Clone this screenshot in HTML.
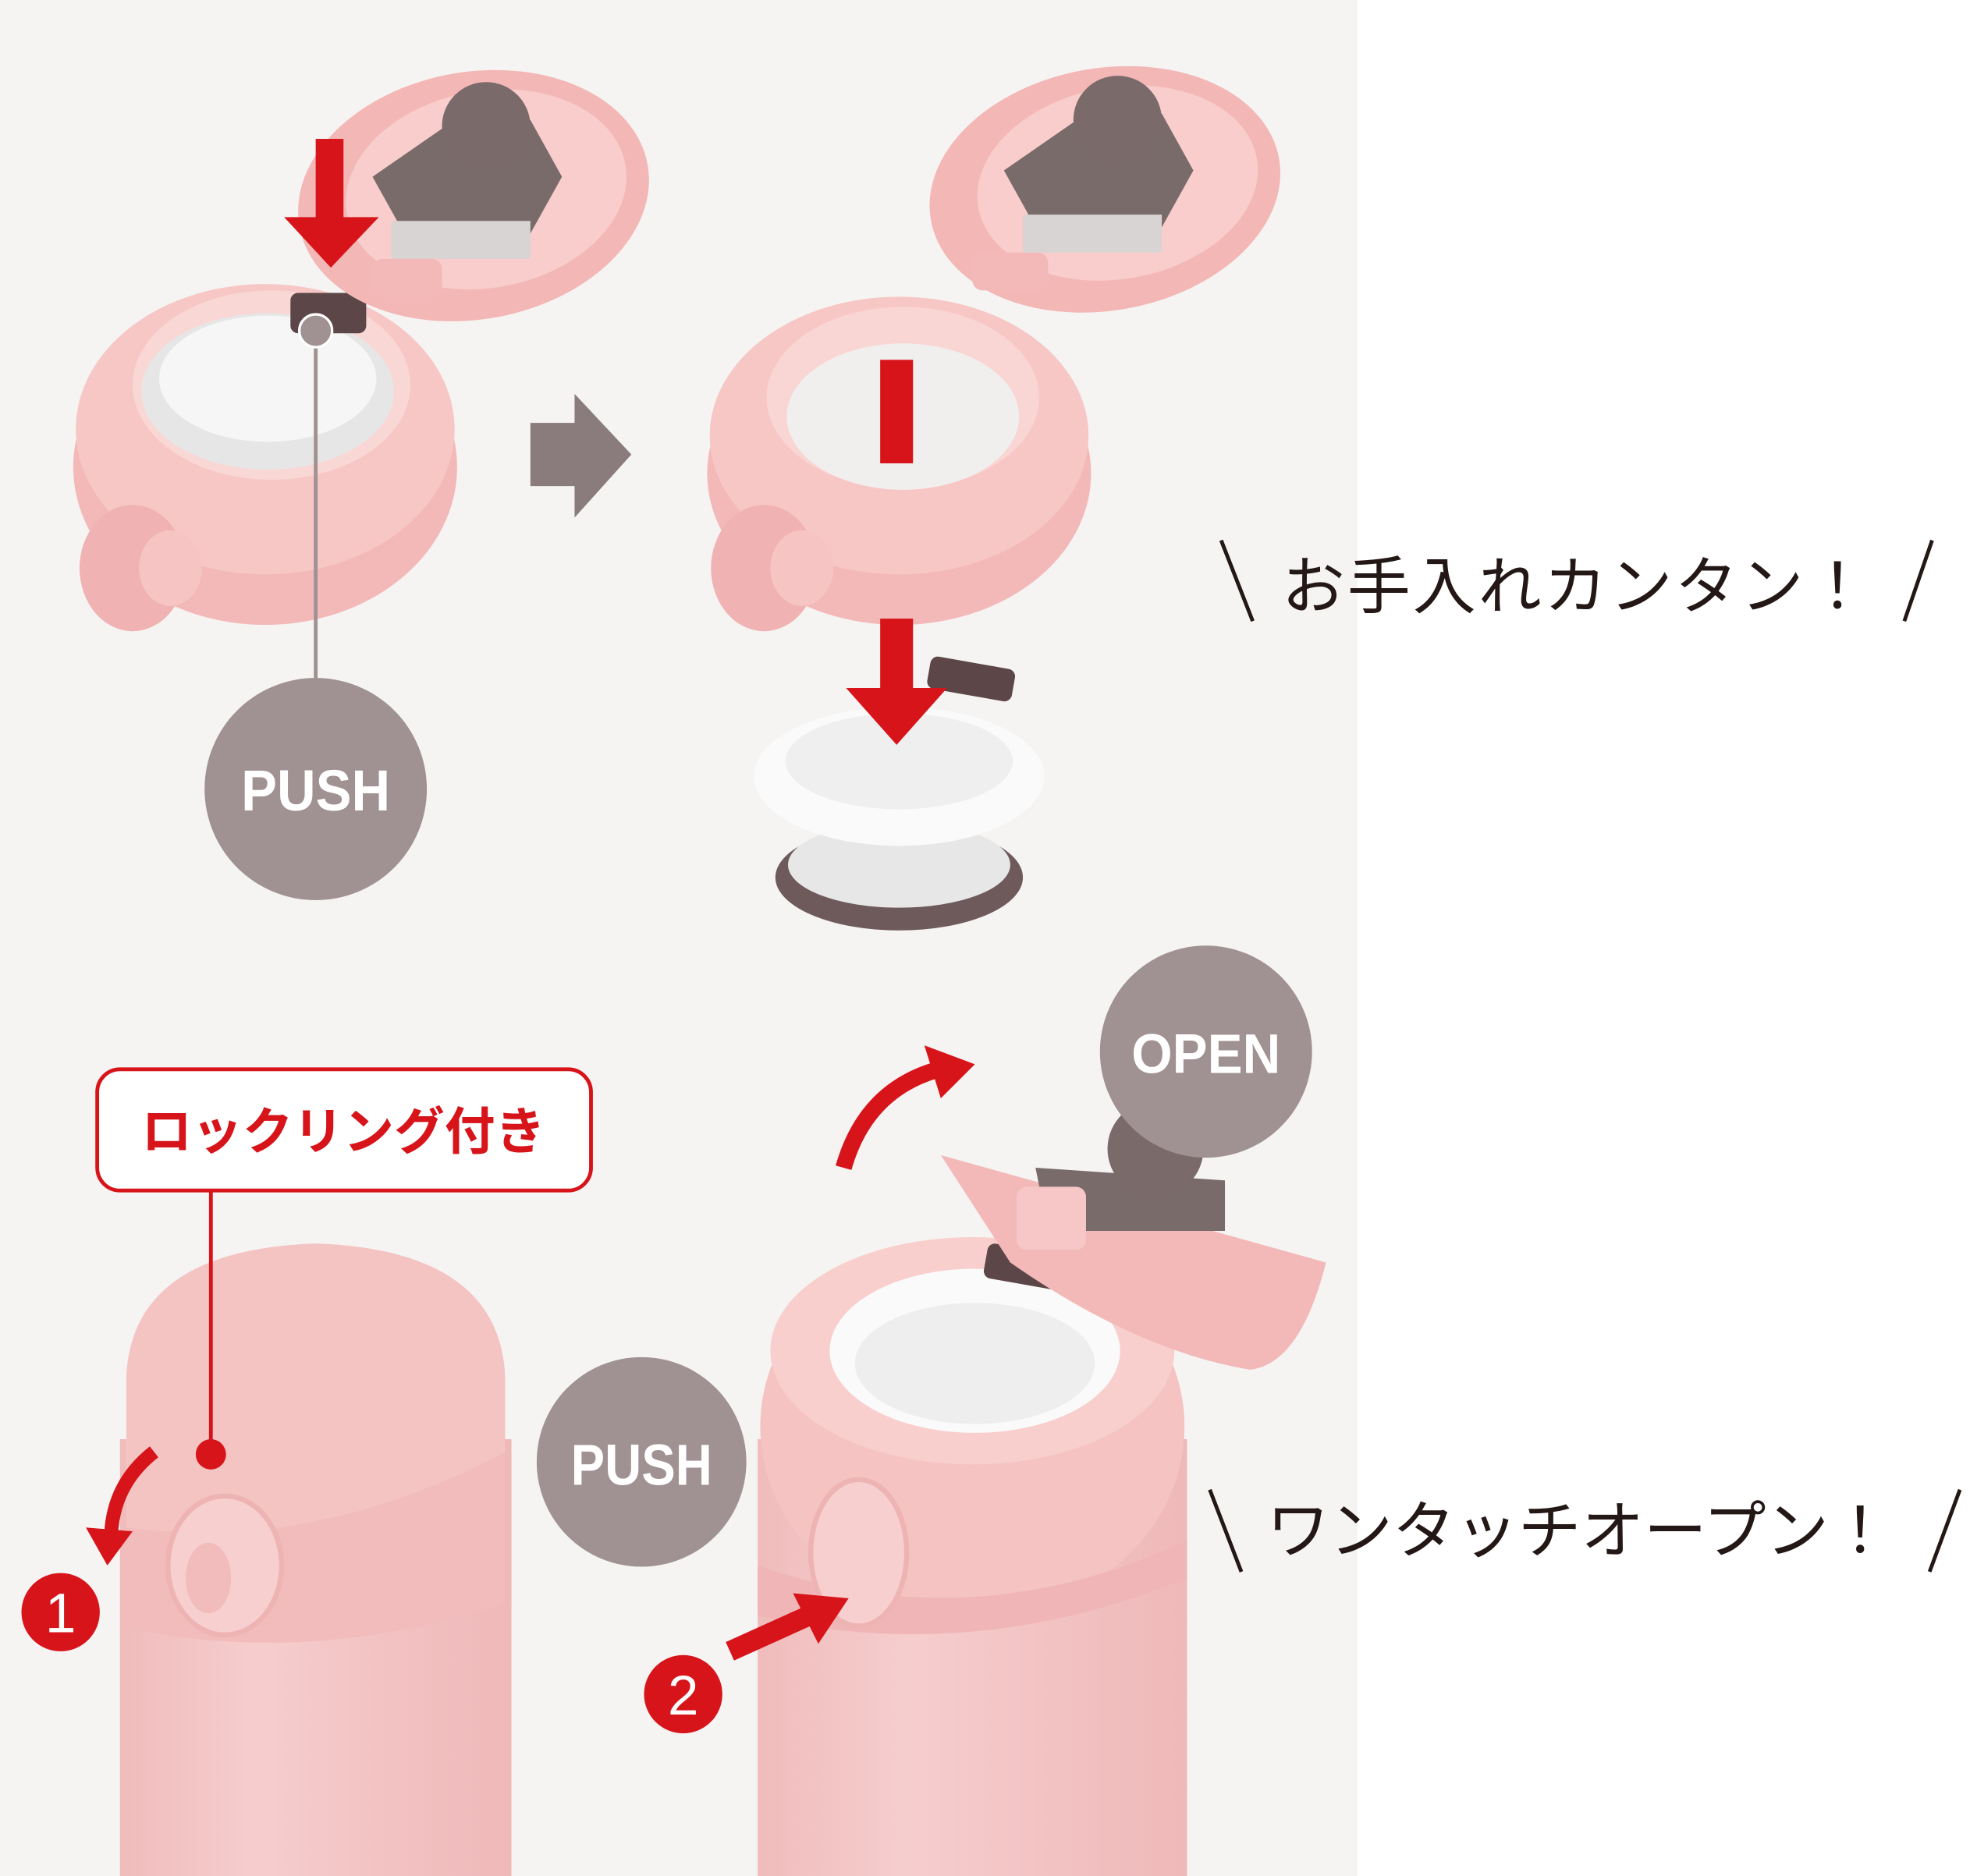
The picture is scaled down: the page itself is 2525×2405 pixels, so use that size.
<!DOCTYPE html>
<html><head><meta charset="utf-8"><style>
html,body{margin:0;padding:0;background:#fff}
svg{display:block}
</style></head><body>
<svg width="2525" height="2405" viewBox="0 0 1560 1486" preserveAspectRatio="none" xmlns="http://www.w3.org/2000/svg">
<defs>
<linearGradient id="bot" x1="0" x2="1" y1="0" y2="0">
<stop offset="0" stop-color="#f0bcbc"/><stop offset="0.35" stop-color="#f6cdcd"/><stop offset="1" stop-color="#efb8b9"/>
</linearGradient>
</defs>
<rect x="0" y="0" width="1560" height="1486" fill="#fff"/>
<rect x="0" y="0" width="1075" height="1486" fill="#f5f4f3"/>

<!-- TOP LEFT: base -->
<ellipse cx="210" cy="370" rx="152" ry="125" fill="#f3b9b8"/>
<ellipse cx="210" cy="340" rx="150" ry="115" fill="#f7c7c5"/>
<ellipse cx="215" cy="305" rx="110" ry="75" fill="#f9d7d5"/>
<ellipse cx="212" cy="310" rx="100" ry="62" fill="#e7e6e6"/>
<ellipse cx="212" cy="300" rx="86" ry="50" fill="#f6f6f6"/>
<ellipse cx="105" cy="450" rx="42" ry="50" fill="#f0b2b2"/>
<ellipse cx="135" cy="450" rx="25" ry="30" fill="#f6c4c3"/>
<rect x="230" y="232" width="60" height="32" rx="6" fill="#5c4647"/>
<!-- top left lid -->
<ellipse cx="375" cy="155" rx="140" ry="98" fill="#f3b7b6" transform="rotate(-10 375 155)"/>
<ellipse cx="385" cy="150" rx="112" ry="78" fill="#f8cdcb" transform="rotate(-10 385 150)"/>
<path d="M295 140 L360 95 L420 95 L445 140 L420 185 L320 185 Z" fill="#7a6b6b"/>
<circle cx="385" cy="100" r="35" fill="#7a6a6a"/>
<rect x="310" y="175" width="110" height="30" fill="#d8d4d3"/>
<rect x="295" y="205" width="55" height="30" rx="8" fill="#f3b9b8"/>
<!-- red down arrow -->
<rect x="250" y="110" width="22" height="70" fill="#d7141a"/>
<path d="M225 172 L300 172 L262 212 Z" fill="#d7141a"/>
<!-- leader -->
<line x1="250" y1="262" x2="250" y2="540" stroke="#a09193" stroke-width="3"/>
<circle cx="250" cy="262" r="13" fill="#a09193" stroke="#fff" stroke-width="2"/>
<circle cx="250" cy="625" r="88" fill="#a09193"/>
<text x="250" y="642" font-family="Liberation Sans, sans-serif" font-weight="bold" font-size="46" fill="#fff" text-anchor="middle" textLength="118" lengthAdjust="spacingAndGlyphs">PUSH</text>

<!-- gray arrow -->
<path d="M420 335 L455 335 L455 312 L500 360 L455 410 L455 385 L420 385 Z" fill="#8a7b7c"/>

<!-- TOP RIGHT: ring -->
<ellipse cx="712" cy="375" rx="152" ry="120" fill="#f3b9b8"/>
<ellipse cx="712" cy="345" rx="150" ry="110" fill="#f7c7c5"/>
<ellipse cx="715" cy="315" rx="108" ry="72" fill="#f9d5d3"/>
<ellipse cx="715" cy="330" rx="92" ry="58" fill="#f1efee"/>
<ellipse cx="605" cy="450" rx="42" ry="50" fill="#f0b2b2"/>
<ellipse cx="635" cy="450" rx="25" ry="30" fill="#f6c4c3"/>
<!-- top right lid -->
<ellipse cx="875" cy="150" rx="140" ry="96" fill="#f3b7b6" transform="rotate(-10 875 150)"/>
<ellipse cx="885" cy="145" rx="112" ry="76" fill="#f8cdcb" transform="rotate(-10 885 145)"/>
<path d="M795 135 L860 90 L920 90 L945 135 L920 180 L820 180 Z" fill="#7a6b6b"/>
<circle cx="885" cy="95" r="35" fill="#7a6a6a"/>
<rect x="810" y="170" width="110" height="30" fill="#d8d4d3"/>
<rect x="770" y="200" width="60" height="30" rx="8" fill="#f3b9b8"/>
<!-- removed cup -->
<ellipse cx="712" cy="695" rx="98" ry="42" fill="#6e5a5b"/>
<ellipse cx="712" cy="685" rx="88" ry="34" fill="#e8e7e7"/>
<ellipse cx="712" cy="615" rx="115" ry="55" fill="#fafafa"/>
<ellipse cx="712" cy="603" rx="90" ry="38" fill="#efefef"/>
<rect x="735" y="525" width="68" height="26" rx="6" fill="#5c4647" transform="rotate(10 770 538)"/>
<!-- red arrows -->
<rect x="697" y="285" width="26" height="82" fill="#d7141a"/>
<rect x="697" y="490" width="26" height="60" fill="#d7141a"/>
<path d="M670 545 L750 545 L710 590 Z" fill="#d7141a"/>

<!-- BOTTOM LEFT bottle -->
<rect x="95" y="1140" width="310" height="346" fill="url(#bot)"/>
<path d="M100 1270 L100 1090 Q105 990 250 985 Q395 990 400 1090 L400 1270 Z" fill="#f4c4c3"/>
<path d="M100 1210 Q250 1230 400 1150 L400 1270 Q250 1320 100 1290 Z" fill="#f2bcbc"/>
<ellipse cx="178" cy="1240" rx="45" ry="55" fill="#f8cfcf" stroke="#eeb3b3" stroke-width="4"/>
<ellipse cx="165" cy="1250" rx="18" ry="28" fill="#f2bcbc"/>
<line x1="167" y1="943" x2="167" y2="1150" stroke="#d7141a" stroke-width="3"/>
<circle cx="167" cy="1152" r="12" fill="#d7141a"/>
<rect x="77" y="847" width="391" height="96" rx="18" fill="#fff" stroke="#d7141a" stroke-width="3"/>
<text x="272" y="910" font-family="Liberation Sans, Noto Sans CJK JP, sans-serif" font-weight="bold" font-size="40" fill="#d7141a" text-anchor="middle">ロックリング付き</text>
<path d="M122 1150 Q90 1175 88 1215" fill="none" stroke="#d7141a" stroke-width="11"/>
<path d="M68 1210 L105 1213 L85 1240 Z" fill="#d7141a"/>
<circle cx="48" cy="1277" r="31" fill="#d7141a"/>
<text x="48" y="1293" font-family="Liberation Sans, sans-serif" font-size="44" fill="#fff" text-anchor="middle">1</text>

<!-- BOTTOM RIGHT bottle -->
<rect x="600" y="1140" width="340" height="346" fill="url(#bot)"/>
<ellipse cx="770" cy="1130" rx="168" ry="150" fill="#f4c3c2"/>
<ellipse cx="770" cy="1070" rx="160" ry="90" fill="#f8cfcd"/>
<ellipse cx="772" cy="1070" rx="115" ry="65" fill="#fafafa"/>
<ellipse cx="772" cy="1080" rx="95" ry="48" fill="#eeeeee"/>
<path d="M600 1240 Q770 1300 940 1220 L940 1250 Q770 1320 600 1280 Z" fill="#f0b6b7"/>
<ellipse cx="680" cy="1230" rx="38" ry="58" fill="#f8cfcf" stroke="#eeb3b3" stroke-width="4"/>
<rect x="780" y="990" width="70" height="28" rx="6" fill="#5c4647" transform="rotate(10 815 1004)"/>
<!-- open lid -->
<path d="M745 915 L1050 1000 Q1030 1080 990 1085 Q900 1070 800 1000 Z" fill="#f3b9b8"/>
<path d="M820 925 L970 935 L970 975 L830 975 Z" fill="#7a6b6b"/>
<circle cx="915" cy="910" r="38" fill="#7a6a6a"/>
<rect x="805" y="940" width="55" height="50" rx="8" fill="#f6c7c6"/>
<circle cx="955" cy="833" r="84" fill="#a09193"/>
<text x="955" y="850" font-family="Liberation Sans, sans-serif" font-weight="bold" font-size="44" fill="#fff" text-anchor="middle" textLength="118" lengthAdjust="spacingAndGlyphs">OPEN</text>
<path d="M668 925 Q685 865 740 848" fill="none" stroke="#d7141a" stroke-width="13"/>
<path d="M732 828 L772 843 L745 870 Z" fill="#d7141a"/>
<circle cx="508" cy="1158" r="83" fill="#a09193"/>
<text x="508" y="1176" font-family="Liberation Sans, sans-serif" font-weight="bold" font-size="46" fill="#fff" text-anchor="middle" textLength="112" lengthAdjust="spacingAndGlyphs">PUSH</text>
<path d="M578 1308 L640 1280" stroke="#d7141a" stroke-width="16"/>
<path d="M628 1262 L672 1266 L648 1302 Z" fill="#d7141a"/>
<circle cx="541" cy="1342" r="31" fill="#d7141a"/>
<text x="541" y="1358" font-family="Liberation Sans, sans-serif" font-size="44" fill="#fff" text-anchor="middle">2</text>

<!-- Right texts -->
<line x1="967" y1="428" x2="992" y2="492" stroke="#231815" stroke-width="3"/>
<line x1="1530" y1="428" x2="1508" y2="492" stroke="#231815" stroke-width="3"/>
<text x="1015" y="482" font-family="Liberation Sans, Noto Sans CJK JP, sans-serif" font-size="50" fill="#231815" textLength="465">お手入れカンタン！</text>
<line x1="958" y1="1180" x2="983" y2="1245" stroke="#231815" stroke-width="3"/>
<line x1="1552" y1="1180" x2="1528" y2="1245" stroke="#231815" stroke-width="3"/>
<text x="1003" y="1230" font-family="Liberation Sans, Noto Sans CJK JP, sans-serif" font-size="50" fill="#231815" textLength="495">ワンタッチオープン！</text>
</svg>
</body></html>
